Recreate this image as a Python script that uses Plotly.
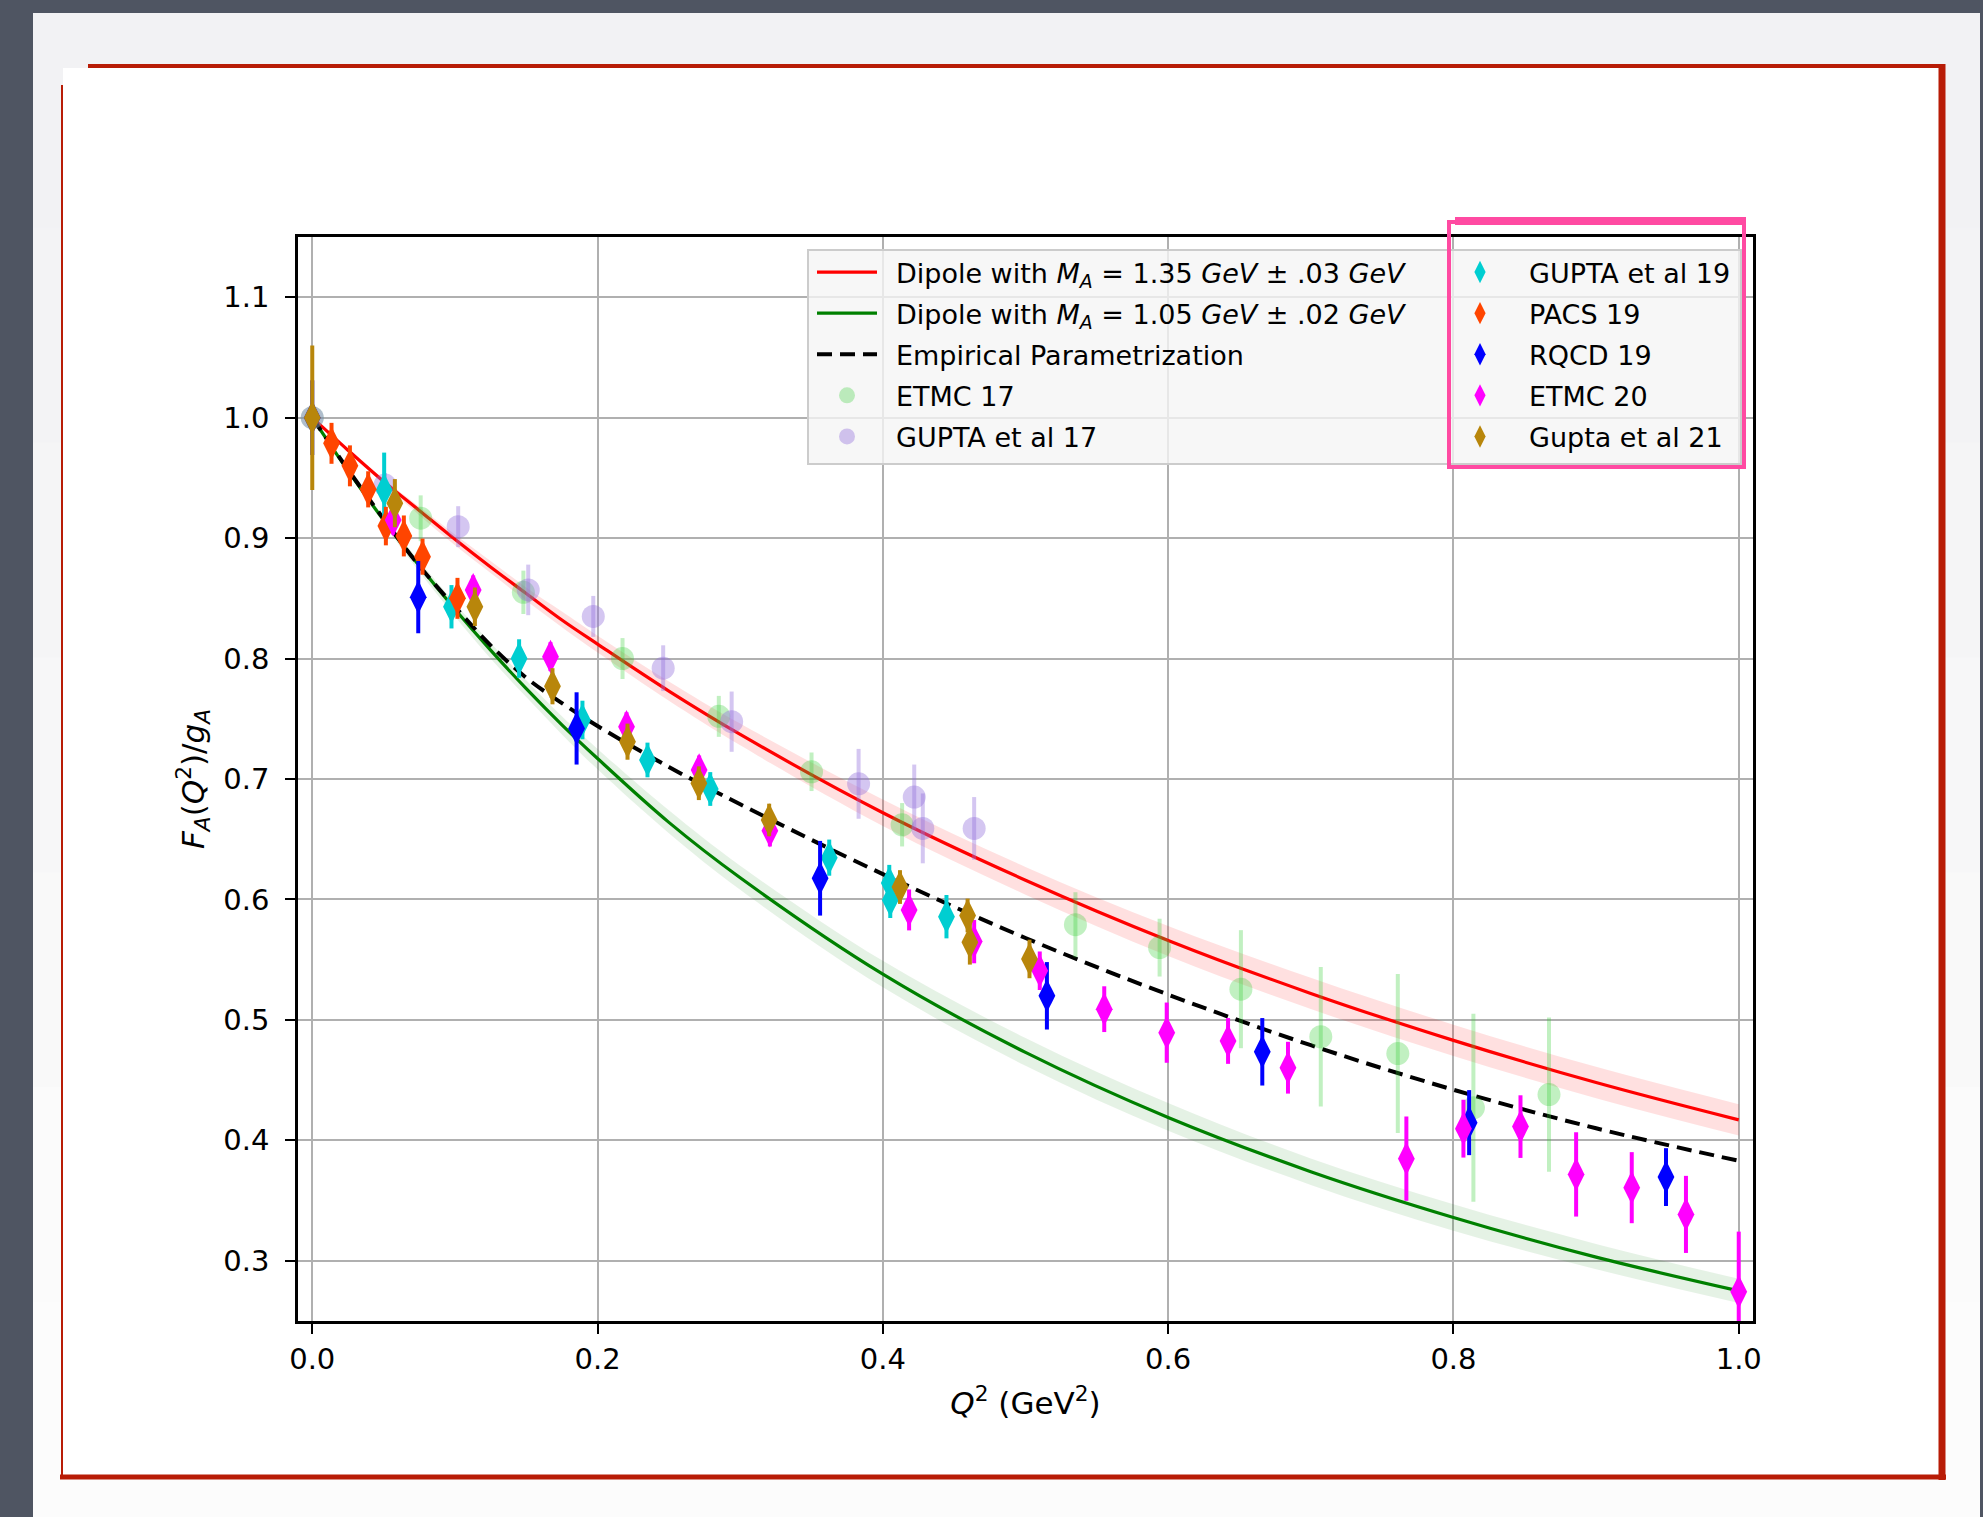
import plotly.graph_objects as go

# ---------------- data ----------------
q2_curve = [0, 0.025, 0.05, 0.075, 0.1, 0.125, 0.15, 0.175, 0.2, 0.25, 0.3, 0.4, 0.5, 0.6, 0.7, 0.8, 0.9, 1.0]
red_mid = [1.0, 0.973, 0.947, 0.923, 0.899, 0.876, 0.854, 0.832, 0.812, 0.773, 0.737, 0.672, 0.616, 0.566, 0.522, 0.483, 0.448, 0.417]
red_hi = [1.0, 0.974, 0.949, 0.926, 0.903, 0.881, 0.859, 0.839, 0.819, 0.781, 0.746, 0.683, 0.627, 0.578, 0.535, 0.496, 0.461, 0.430]
red_lo = [1.0, 0.972, 0.945, 0.919, 0.894, 0.871, 0.848, 0.826, 0.805, 0.765, 0.728, 0.661, 0.604, 0.553, 0.509, 0.470, 0.435, 0.404]
green_mid = [1.0, 0.956, 0.915, 0.877, 0.841, 0.807, 0.775, 0.745, 0.717, 0.664, 0.618, 0.538, 0.473, 0.419, 0.374, 0.336, 0.303, 0.275]
green_hi = [1.0, 0.958, 0.918, 0.881, 0.846, 0.813, 0.782, 0.752, 0.725, 0.674, 0.628, 0.549, 0.485, 0.431, 0.385, 0.347, 0.314, 0.285]
green_lo = [1.0, 0.955, 0.912, 0.872, 0.835, 0.800, 0.768, 0.737, 0.708, 0.655, 0.608, 0.527, 0.462, 0.408, 0.363, 0.325, 0.293, 0.265]
empirical = [1.0, 0.957, 0.916, 0.877, 0.843, 0.811, 0.784, 0.763, 0.744, 0.710, 0.679, 0.621, 0.568, 0.521, 0.479, 0.442, 0.410, 0.383]

etmc17_x = [0.0, 0.076, 0.148, 0.2175, 0.285, 0.350, 0.4135, 0.535, 0.594, 0.651, 0.707, 0.761, 0.814, 0.867]
etmc17_y = [1.0, 0.9165, 0.855, 0.800, 0.752, 0.706, 0.662, 0.579, 0.560, 0.5255, 0.486, 0.472, 0.427, 0.438]
etmc17_e = [0.0, 0.019, 0.018, 0.017, 0.017, 0.016, 0.018, 0.027, 0.024, 0.049, 0.058, 0.066, 0.078, 0.064]

gupta17_x = [0.0, 0.051, 0.1023, 0.1514, 0.197, 0.246, 0.294, 0.383, 0.422, 0.428, 0.464]
gupta17_y = [1.0, 0.944, 0.9095, 0.857, 0.835, 0.792, 0.7476, 0.696, 0.685, 0.659, 0.659]
gupta17_e = [0.0, 0.010, 0.017, 0.021, 0.017, 0.019, 0.025, 0.029, 0.027, 0.029, 0.026]

gupta19_x = [0.0504, 0.0976, 0.145, 0.1894, 0.235, 0.279, 0.3624, 0.4045, 0.4052, 0.4446]
gupta19_y = [0.940, 0.843, 0.800, 0.749, 0.7158, 0.6917, 0.6347, 0.6137, 0.5996, 0.5857]
gupta19_e = [0.031, 0.018, 0.016, 0.016, 0.0144, 0.014, 0.015, 0.015, 0.015, 0.018]

pacs19_x = [0.0135, 0.0264, 0.0392, 0.0516, 0.0642, 0.0773, 0.1018]
pacs19_y = [0.9787, 0.960, 0.9405, 0.910, 0.9018, 0.8846, 0.850]
pacs19_e = [0.017, 0.017, 0.015, 0.016, 0.017, 0.015, 0.017]

rqcd19_x = [0.0, 0.0743, 0.1853, 0.356, 0.515, 0.666, 0.811, 0.949]
rqcd19_y = [1.0, 0.851, 0.742, 0.6176, 0.520, 0.4735, 0.4147, 0.3695]
rqcd19_e = [0.031, 0.030, 0.030, 0.031, 0.028, 0.028, 0.027, 0.024]

etmc20_x = [0.0567, 0.1128, 0.167, 0.2203, 0.2712, 0.3208, 0.4184, 0.464, 0.510, 0.5552, 0.599, 0.642, 0.684,
            0.767, 0.807, 0.847, 0.886, 0.925, 0.963, 1.0]
etmc20_y = [0.915, 0.857, 0.8016, 0.7434, 0.7075, 0.657, 0.5913, 0.565, 0.5408, 0.5089, 0.4894, 0.4825, 0.4603,
            0.3848, 0.4097, 0.4114, 0.3717, 0.3607, 0.3385, 0.2742]
etmc20_e = [0.012, 0.012, 0.012, 0.012, 0.012, 0.013, 0.017, 0.018, 0.016, 0.019, 0.025, 0.019, 0.0215,
            0.035, 0.024, 0.026, 0.035, 0.0295, 0.032, 0.05]

gupta21_x = [0.0, 0.0579, 0.114, 0.1684, 0.221, 0.271, 0.3203, 0.412, 0.4594, 0.461, 0.5028]
gupta21_y = [1.0, 0.929, 0.843, 0.777, 0.731, 0.6965, 0.666, 0.6103, 0.5867, 0.5644, 0.5506]
gupta21_e = [0.06, 0.02, 0.016, 0.015, 0.015, 0.014, 0.0135, 0.014, 0.014, 0.0185, 0.016]

x_ticks = [0.0, 0.2, 0.4, 0.6, 0.8, 1.0]
y_ticks = [0.3, 0.4, 0.5, 0.6, 0.7, 0.8, 0.9, 1.0, 1.1]

# ---------------- layout geometry (pixels) ----------------
FW, FH = 1983, 1517
L, R, T, B = 298, 1753, 237, 1321
PW, PH = R - L, B - T


def fx(px):
    return (px - L) / PW


def fy(py):
    return (B - py) / PH


FONT = "DejaVu Sans"
GAP = "\u00a0\u2009"  # small gap between legend symbol and text
fig = go.Figure()

# bands
fig.add_trace(go.Scatter(x=q2_curve, y=red_hi, mode="lines", line=dict(width=0, shape="spline"),
                         showlegend=False, hoverinfo="skip"))
fig.add_trace(go.Scatter(x=q2_curve, y=red_lo, mode="lines", line=dict(width=0, shape="spline"),
                         fill="tonexty", fillcolor="rgba(255,0,0,0.12)", showlegend=False, hoverinfo="skip"))
fig.add_trace(go.Scatter(x=q2_curve, y=green_hi, mode="lines", line=dict(width=0, shape="spline"),
                         showlegend=False, hoverinfo="skip"))
fig.add_trace(go.Scatter(x=q2_curve, y=green_lo, mode="lines", line=dict(width=0, shape="spline"),
                         fill="tonexty", fillcolor="rgba(0,128,0,0.10)", showlegend=False, hoverinfo="skip"))

# curves
fig.add_trace(go.Scatter(x=q2_curve, y=red_mid, mode="lines", line=dict(color="#ff0000", width=3.2, shape="spline"),
                         name=GAP + "Dipole with <i>M<sub>A</sub></i> = 1.35 <i>GeV</i> ± .03 <i>GeV</i>",
                         legend="legend", legendgroup="a1"))
fig.add_trace(go.Scatter(x=q2_curve, y=green_mid, mode="lines", line=dict(color="#008000", width=3.2, shape="spline"),
                         name=GAP + "Dipole with <i>M<sub>A</sub></i> = 1.05 <i>GeV</i> ± .02 <i>GeV</i>",
                         legend="legend", legendgroup="a2"))
fig.add_trace(go.Scatter(x=q2_curve, y=empirical, mode="lines",
                         line=dict(color="#000000", width=4, dash="15px,8px", shape="spline"),
                         name=GAP + "Empirical Parametrization", legend="legend", legendgroup="a3"))


def pts(x, y, e, color, symbol, size, name, leg, grp):
    fig.add_trace(go.Scatter(
        x=x, y=y, mode="markers", name=GAP + name, legend=leg, legendgroup=grp,
        marker=dict(color=color, symbol=symbol, size=size, line=dict(width=0)),
        error_y=dict(type="data", array=e, visible=True, color=color, thickness=4, width=0)))


pts(etmc17_x, etmc17_y, etmc17_e, "rgba(50,205,50,0.3)", "circle", 23, "ETMC 17", "legend", "a4")
pts(gupta17_x, gupta17_y, gupta17_e, "rgba(147,112,219,0.4)", "circle", 23, "GUPTA et al 17", "legend", "a5")
pts(gupta19_x, gupta19_y, gupta19_e, "#00CED1", "diamond-tall", 24, "GUPTA et al 19", "legend2", "b1")
pts(pacs19_x, pacs19_y, pacs19_e, "#FF4500", "diamond-tall", 24, "PACS 19", "legend2", "b2")
pts(rqcd19_x, rqcd19_y, rqcd19_e, "#0000FF", "diamond-tall", 24, "RQCD 19", "legend2", "b3")
pts(etmc20_x, etmc20_y, etmc20_e, "#FF00FF", "diamond-tall", 24, "ETMC 20", "legend2", "b4")
pts(gupta21_x, gupta21_y, gupta21_e, "#B8860B", "diamond-tall", 24, "Gupta et al 21", "legend2", "b5")

# ---------------- slide decoration ----------------
shapes = []
# light panel with slight vertical gradient
panel_cols = ["#f2f2f4", "#f3f3f5", "#f5f5f6", "#f7f7f8", "#f9f9f9", "#fbfbfb", "#fcfcfc"]
n = len(panel_cols)
for i, c in enumerate(panel_cols):
    y0 = 13 + (FH - 13) * i / n
    y1 = 13 + (FH - 13) * (i + 1) / n + 1
    shapes.append(dict(type="rect", xref="paper", yref="paper", x0=fx(33), x1=fx(1980), y0=fy(y0), y1=fy(y1),
                       fillcolor=c, line=dict(width=0), layer="below"))
# white sheet
shapes.append(dict(type="rect", xref="paper", yref="paper", x0=fx(63), x1=fx(1942), y0=fy(68), y1=fy(1477),
                   fillcolor="#ffffff", line=dict(width=0), layer="below"))
RED = "#b81c06"
shapes += [
    dict(type="line", xref="paper", yref="paper", x0=fx(88), x1=fx(1944), y0=fy(66), y1=fy(66),
         line=dict(color=RED, width=4), layer="below"),
    dict(type="line", xref="paper", yref="paper", x0=fx(62), x1=fx(62), y0=fy(85), y1=fy(1478),
         line=dict(color=RED, width=2), layer="below"),
    dict(type="line", xref="paper", yref="paper", x0=fx(60), x1=fx(1946), y0=fy(1477), y1=fy(1477),
         line=dict(color=RED, width=5), layer="below"),
    dict(type="line", xref="paper", yref="paper", x0=fx(1942), x1=fx(1942), y0=fy(64), y1=fy(1480),
         line=dict(color=RED, width=7), layer="below"),
]
# legend frame
shapes.append(dict(type="rect", xref="paper", yref="paper", x0=fx(808), x1=fx(1741), y0=fy(250), y1=fy(464),
                   fillcolor="rgba(245,245,245,0.8)", line=dict(color="#cccccc", width=2), layer="above"))
# pink hand-drawn box
PINK = "#ff4aa2"
shapes += [
    dict(type="rect", xref="paper", yref="paper", x0=fx(1449), x1=fx(1744), y0=fy(222), y1=fy(467),
         line=dict(color=PINK, width=4), layer="above"),
    dict(type="line", xref="paper", yref="paper", x0=fx(1455), x1=fx(1746), y0=fy(221), y1=fy(221),
         line=dict(color=PINK, width=8), layer="above"),
]

tickfont = dict(family=FONT, size=29, color="black")
fig.update_layout(
    width=FW, height=FH,
    margin=dict(l=L, r=FW - R, t=T, b=FH - B, pad=0),
    paper_bgcolor="#4f5562",
    plot_bgcolor="#f4f4f4",
    font=dict(family=FONT, color="black"),
    shapes=shapes,
    xaxis=dict(range=[-0.01, 1.01], tickvals=x_ticks, ticktext=[f"{v:.1f}" for v in x_ticks],
               showgrid=True, gridcolor="#b0b0b0", gridwidth=2, zeroline=False,
               showline=True, linecolor="black", linewidth=2.5, mirror=True,
               ticks="outside", ticklen=10, tickwidth=2, tickcolor="black", tickfont=tickfont,
               title=dict(text="<i>Q</i><sup>2</sup> (GeV<sup>2</sup>)", font=dict(family=FONT, size=31),
                          standoff=18),
               automargin=False),
    yaxis=dict(range=[0.25, 1.15], tickvals=y_ticks, ticktext=[f"{v:.1f}" for v in y_ticks],
               showgrid=True, gridcolor="#b0b0b0", gridwidth=2, zeroline=False,
               showline=True, linecolor="black", linewidth=2.5, mirror=True,
               ticks="outside", ticklen=10, tickwidth=2, tickcolor="black", tickfont=tickfont,
               ticklabelstandoff=10,
               title=dict(text="<i>F</i><sub><i>A</i></sub>(<i>Q</i><sup>2</sup>)/<i>g</i><sub><i>A</i></sub>",
                          font=dict(family=FONT, size=31), standoff=10),
               automargin=False),
    legend=dict(x=fx(812), y=fy(248), xanchor="left", yanchor="top", bgcolor="rgba(0,0,0,0)",
                borderwidth=0, font=dict(family=FONT, size=27, color="black"), itemwidth=60,
                traceorder="grouped", tracegroupgap=3),
    legend2=dict(x=fx(1445), y=fy(248), xanchor="left", yanchor="top", bgcolor="rgba(0,0,0,0)",
                 borderwidth=0, font=dict(family=FONT, size=27, color="black"), itemwidth=60,
                 traceorder="grouped", tracegroupgap=3),
)

fig.write_html("out.html")
